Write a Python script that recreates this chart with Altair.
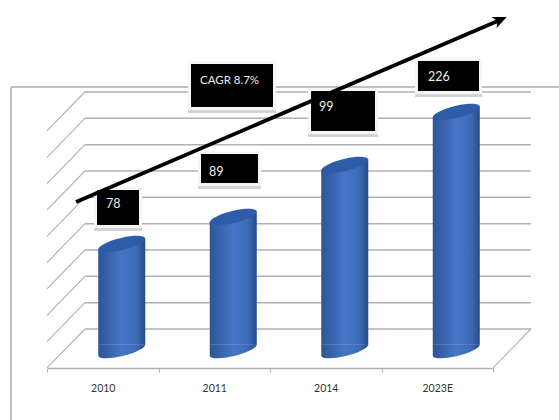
import altair as alt
import pandas as pd

# Chart values
years = ["2010", "2011", "2014", "2023E"]
values = [78, 89, 99, 226]
wall_levels = [0, 1, 2, 3, 4, 5, 6, 7, 8, 9]
cagr_text = "CAGR 8.7%"

GRID = "#b0b0b0"
FONT = "Lato"
BODY = alt.Gradient(
    gradient="linear", x1=0, x2=1, y1=0, y2=0,
    stops=[
        alt.GradientStop(offset=0, color="#2d5596"),
        alt.GradientStop(offset=0.5, color="#4576c8"),
        alt.GradientStop(offset=0.8, color="#3f6cb9"),
        alt.GradientStop(offset=1, color="#274a87"),
    ],
)
# Cylinder end shapes in the unit square used by custom symbols: a sheared ellipse
# for the lid, a wedge that joins the lid to the body, and the rounded foot.
CAP = ("M1,-0.23 C1,-0.081 0.552,0.143 0,0.27 C-0.552,0.397 -1,0.379 -1,0.23 "
       "C-1,0.081 -0.552,-0.143 0,-0.27 C0.552,-0.397 1,-0.379 1,-0.23 Z")
COLLAR = "M-1,0.23 L1,-0.23 L1,0.25 L-1,0.25 Z"
FOOT = ("M1,-0.25 L1,-0.23 C1,-0.081 0.552,0.143 0,0.27 C-0.552,0.397 -1,0.379 -1,0.23 "
        "L-1,-0.25 Z")
SHEAR_PX = 5.4
ARROW = "M0,-1 L0.8,0.85 L0,0.4 L-0.8,0.85 Z"

# Perspective offset between the front edge of the floor and the back wall
DEPTH_X = 0.34
DEPTH_Y = 1.48

wall = pd.DataFrame({"level": wall_levels})
wall["x0"] = DEPTH_X
wall["x1"] = 4 + DEPTH_X
wall["sx"] = 0.0
wall["sy"] = wall["level"] - DEPTH_Y
edge = pd.DataFrame({"sx": [4.0], "x0": [4 + DEPTH_X], "sy": [-DEPTH_Y], "level": [0]})

floor_x = alt.Scale(domain=[0, 4], range=[47, 493])
level_y = alt.Scale(domain=[0, 9], range=[329, 92])

back_lines = alt.Chart(wall).mark_rule(color=GRID, strokeWidth=1.5).encode(
    x=alt.X("x0:Q", scale=floor_x, axis=None),
    x2="x1:Q",
    y=alt.Y("level:Q", scale=level_y, axis=None),
)
side_lines = alt.Chart(wall).mark_rule(color=GRID, strokeWidth=1.1).encode(
    x=alt.X("sx:Q", scale=floor_x, axis=None),
    x2="x0:Q",
    y=alt.Y("sy:Q", scale=level_y, axis=None),
    y2="level:Q",
)
right_edge = alt.Chart(edge).mark_rule(color=GRID, strokeWidth=1.1).encode(
    x=alt.X("sx:Q", scale=floor_x, axis=None),
    x2="x0:Q",
    y=alt.Y("sy:Q", scale=level_y, axis=None),
    y2="level:Q",
)

frame_top = alt.Chart(pd.DataFrame({"a": [0]})).mark_rule(color="#ababab", strokeWidth=1.3).encode(
    x=alt.value(11), x2=alt.value(559), y=alt.value(87))
frame_left = alt.Chart(pd.DataFrame({"a": [0]})).mark_rule(color="#ababab", strokeWidth=1.5).encode(
    x=alt.value(11), y=alt.value(87), y2=alt.value(420))

# Cylinders: callout values pass through a stretched scale for the drawn heights
bars = pd.DataFrame({"year": years, "value": values, "base": [0] * len(years)})
year_x = alt.X(
    "year:N",
    sort=years,
    title=None,
    scale=alt.Scale(domain=years, range=[47, 493], paddingInner=0, paddingOuter=0),
    axis=alt.Axis(
        offset=-52, tickBand="extent", tickSize=4, tickColor=GRID, domainColor=GRID,
        domainWidth=1.6, labelAngle=0, labelPadding=11, labelColor="#333333",
        labelFont=FONT, labelFontSize=10.5, grid=False,
    ),
)
bar_x = alt.X("year:N", sort=years, axis=None,
              scale=alt.Scale(domain=years, range=[47, 493], paddingInner=0, paddingOuter=0))
value_y = alt.Scale(domain=[0, 78, 89, 99, 226], range=[350, 244, 217, 165, 112])

axis_layer = alt.Chart(bars).mark_point(opacity=0).encode(
    x=year_x, y=alt.Y("value:Q", scale=value_y, axis=None))
feet = alt.Chart(bars).mark_point(
    shape=FOOT, size=2209, filled=True, fill=BODY, opacity=1, strokeWidth=0, xOffset=19,
).encode(x=bar_x, y=alt.Y("base:Q", scale=value_y, axis=None))
bodies = alt.Chart(bars).mark_bar(
    fill=BODY, width=47, xOffset=19, yOffset=SHEAR_PX, y2Offset=-SHEAR_PX,
).encode(
    x=bar_x,
    y=alt.Y("value:Q", scale=value_y, axis=None),
    y2="base:Q",
)
collars = alt.Chart(bars).mark_point(
    shape=COLLAR, size=2209, filled=True, fill=BODY, opacity=1, strokeWidth=0, xOffset=19,
).encode(x=bar_x, y=alt.Y("value:Q", scale=value_y, axis=None))
lids = alt.Chart(bars).mark_point(
    shape=CAP, size=2209, filled=True, fill="#2f5ca9", opacity=1, strokeWidth=0, xOffset=19,
).encode(x=bar_x, y=alt.Y("value:Q", scale=value_y, axis=None))


def callout(text, left, top, right, bottom, text_x, text_y, size=12.5):
    """Black label box with a white halo and a soft grey drop shadow."""
    one = pd.DataFrame({"label": [text]})
    box = alt.Chart(one)
    shadow = box.mark_rect(color="#d4d4d4").encode(
        x=alt.value(left - 3), x2=alt.value(right + 3),
        y=alt.value(top + 4), y2=alt.value(bottom + 6))
    halo = box.mark_rect(color="#f6f6f6").encode(
        x=alt.value(left - 3), x2=alt.value(right + 3),
        y=alt.value(top - 3), y2=alt.value(bottom + 3))
    core = box.mark_rect(color="#000000").encode(
        x=alt.value(left), x2=alt.value(right),
        y=alt.value(top), y2=alt.value(bottom))
    label = box.mark_text(align="left", baseline="middle", color="#ececec",
                          font=FONT, fontSize=size).encode(
        x=alt.value(text_x), y=alt.value(text_y), text="label:N")
    return [shadow, halo, core, label]


callouts = (
    callout(cagr_text, 191, 64, 273, 107, 200, 81, 11.5)
    + callout(str(values[0]), 97, 190, 139, 225, 106, 204)
    + callout(str(values[1]), 201, 154, 258, 183, 209, 172)
    + callout(str(values[2]), 311, 91, 375, 131, 319, 107)
    + callout(str(values[3]), 418, 61, 479, 91, 428, 77)
)

# Growth arrow across the chart
arrow_line = alt.Chart(pd.DataFrame({"a": [0]})).mark_rule(color="#000000", strokeWidth=3.8).encode(
    x=alt.value(76), x2=alt.value(500), y=alt.value(202), y2=alt.value(20))
arrow_head = alt.Chart(pd.DataFrame({"a": [0]})).mark_point(
    shape=ARROW, size=220, angle=66.7, filled=True, color="#000000", opacity=1, strokeWidth=0,
).encode(x=alt.value(500), y=alt.value(20))

chart = alt.layer(
    frame_top, frame_left, back_lines, side_lines, right_edge, axis_layer,
    feet, bodies, collars, lids, *callouts, arrow_line, arrow_head,
).resolve_scale(x="independent", y="independent").properties(
    width=559, height=420, padding=0, background="#ffffff",
    autosize=alt.AutoSizeParams(type="none"),
).configure_view(stroke=None)

chart.save("out.html", embed_options={"renderer": "svg", "actions": False})
